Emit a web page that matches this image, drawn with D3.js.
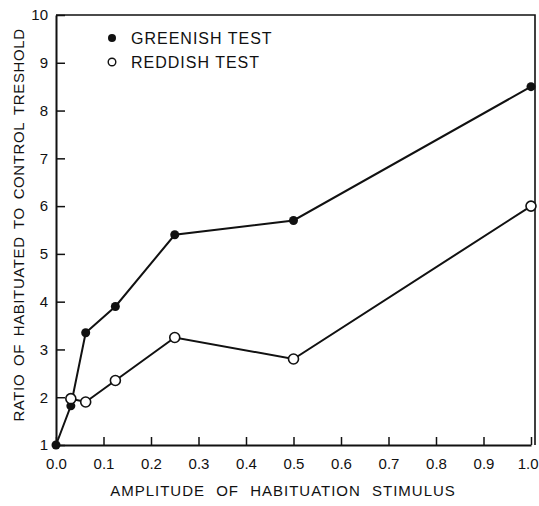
<!DOCTYPE html>
<html>
<head>
<meta charset="utf-8">
<script src="https://cdn.jsdelivr.net/npm/d3@7"></script>
<style>
  body { margin: 0; background: #fff; }
  text { font-family: "Liberation Sans", Arial, sans-serif; fill: #111; }
</style>
</head>
<body>
<div class="canvas"></div>
<script>
// amplitudes (habituation stimulus) and ratios
const greenX = [0, 0.03125, 0.0625, 0.125, 0.25, 0.5, 1.0];
const greenY = [1, 1.82, 3.35, 3.9, 5.4, 5.7, 8.5];
const redX = [0.03125, 0.0625, 0.125, 0.25, 0.5, 1.0];
const redY = [1.97, 1.9, 2.35, 3.25, 2.8, 6.0];
const xTicks = [0, 0.1, 0.2, 0.3, 0.4, 0.5, 0.6, 0.7, 0.8, 0.9, 1.0];
const yTicks = [1, 2, 3, 4, 5, 6, 7, 8, 9, 10];
const legendLabels = ['GREENISH TEST', 'REDDISH TEST'];

const width = 539, height = 506;

const svg = d3.select('.canvas')
    .append('svg')
    .attr('width', width)
    .attr('height', height);

const x = d3.scaleLinear().domain([0, 1]).range([56, 531]);
const y = d3.scaleLinear().domain([1, 10]).range([445, 15]);

// frame (top + right)
svg.append('path')
    .attr('d', `M${x(0)},${y(10)} H535 V${y(1)}`)
    .attr('fill', 'none')
    .attr('stroke', '#111')
    .attr('stroke-width', 1.6);

// axes with inward ticks
const xAxis = d3.axisBottom(x)
    .tickValues(xTicks)
    .tickFormat(d3.format('.1f'))
    .tickSizeInner(-8)
    .tickSizeOuter(0)
    .tickPadding(13);
const yAxis = d3.axisLeft(y)
    .tickValues(yTicks)
    .tickFormat(d3.format('d'))
    .tickSizeInner(-9)
    .tickSizeOuter(0)
    .tickPadding(8);

const xAxisGroup = svg.append('g')
    .attr('transform', `translate(0, ${y(1)})`)
    .call(xAxis);
const yAxisGroup = svg.append('g')
    .attr('transform', `translate(${x(0)}, 0)`)
    .call(yAxis);

[xAxisGroup, yAxisGroup].forEach(g => {
    g.select('.domain').attr('stroke', '#111').attr('stroke-width', 2);
    g.selectAll('.tick line').attr('stroke', '#111').attr('stroke-width', 1.5);
    g.selectAll('.tick text')
        .attr('fill', '#111')
        .style('font-family', '"Liberation Sans", Arial, sans-serif')
        .style('font-size', '15px');
});

// last label sits against the right edge
xAxisGroup.selectAll('.tick text')
    .filter(d => d === 1)
    .attr('text-anchor', 'end')
    .attr('dx', 7);

// axis titles
svg.append('text')
    .attr('x', 283)
    .attr('y', 496)
    .attr('text-anchor', 'middle')
    .style('font-size', '15px')
    .style('letter-spacing', '1px')
    .style('word-spacing', '6px')
    .text('AMPLITUDE OF HABITUATION STIMULUS');

svg.append('text')
    .attr('transform', 'translate(24, 225) rotate(-90)')
    .attr('text-anchor', 'middle')
    .style('font-size', '15px')
    .style('letter-spacing', '0.6px')
    .style('word-spacing', '3px')
    .text('RATIO OF HABITUATED TO CONTROL TRESHOLD');

// series
const line = d3.line()
    .x(d => x(d[0]))
    .y(d => y(d[1]));

const green = d3.zip(greenX, greenY);
const red = d3.zip(redX, redY);

svg.append('path')
    .datum(green)
    .attr('d', line)
    .attr('fill', 'none')
    .attr('stroke', '#111')
    .attr('stroke-width', 2);

svg.append('path')
    .datum(red)
    .attr('d', line)
    .attr('fill', 'none')
    .attr('stroke', '#111')
    .attr('stroke-width', 2);

svg.selectAll('.g-dot')
    .data(green)
    .enter()
    .append('circle')
    .attr('cx', d => x(d[0]))
    .attr('cy', d => y(d[1]))
    .attr('r', 4.5)
    .attr('fill', '#111');

svg.selectAll('.r-dot')
    .data(red)
    .enter()
    .append('circle')
    .attr('cx', d => x(d[0]))
    .attr('cy', d => y(d[1]))
    .attr('r', 5)
    .attr('fill', '#fff')
    .attr('stroke', '#111')
    .attr('stroke-width', 1.6);

// legend
const legend = svg.append('g');
legendLabels.forEach((label, i) => {
    legend.append('circle')
        .attr('cx', 112)
        .attr('cy', 38 + i * 24)
        .attr('r', i === 0 ? 4 : 3.8)
        .attr('fill', i === 0 ? '#111' : '#fff')
        .attr('stroke', '#111')
        .attr('stroke-width', i === 0 ? 0 : 1.4);
    legend.append('text')
        .attr('x', 131)
        .attr('y', 44 + i * 24)
        .style('font-size', '16px')
        .style('letter-spacing', '1px')
        .text(label);
});
</script>
</body>
</html>
